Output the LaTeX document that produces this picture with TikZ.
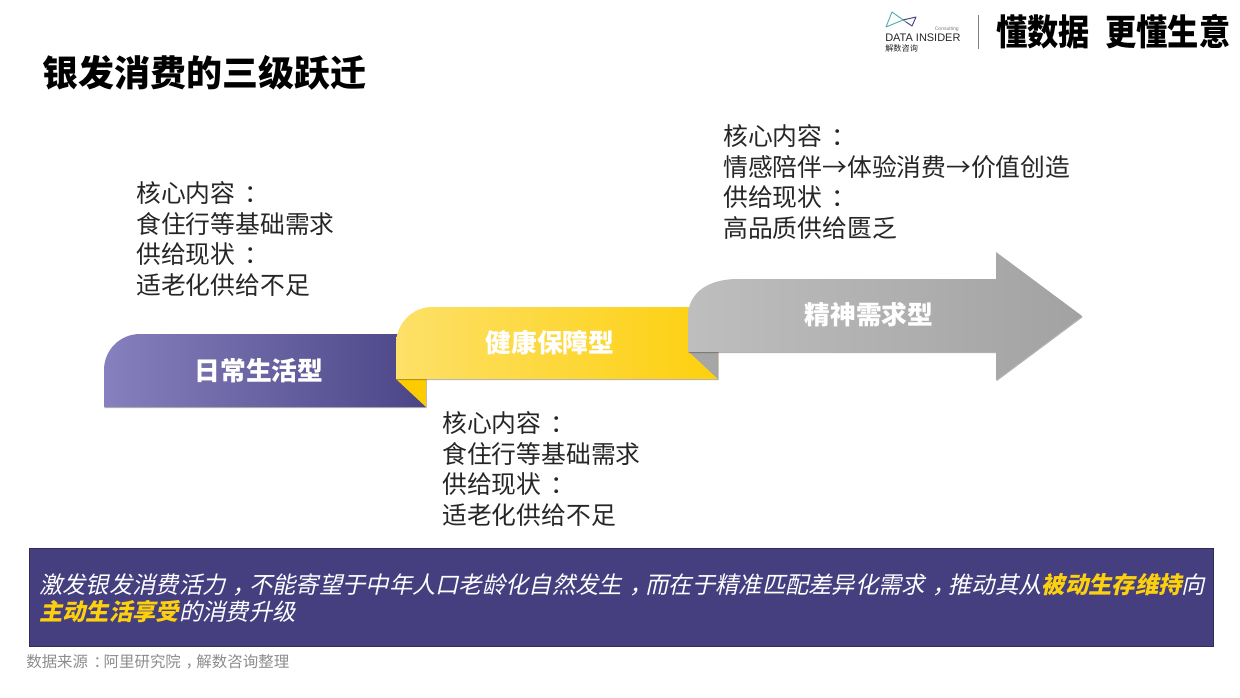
\documentclass[tikz,border=0pt]{standalone}
\usepackage{fontspec}
\usepackage{xcolor}
\usetikzlibrary{shadows}
\setmainfont{Noto Sans CJK SC}
\setsansfont{Liberation Sans}
\newfontfamily\slantfont[FakeSlant=0.22]{Noto Sans CJK SC}
\newcommand{\zhcolon}{\kern.36em\char"FF1A\kern-.36em}
\newcommand{\zhcomma}{\kern.3em\char"FF0C\kern-.3em}
\definecolor{violetL}{RGB}{135, 128, 190}
\definecolor{violetR}{RGB}{74, 69, 134}
\definecolor{banner}{RGB}{69, 63, 128}
\definecolor{goldL}{RGB}{253, 224, 104}
\definecolor{goldR}{RGB}{253, 208, 14}
\definecolor{goldfold}{RGB}{252, 203, 0}
\definecolor{greyL}{RGB}{190, 190, 190}
\definecolor{greyR}{RGB}{162, 162, 162}
\definecolor{greyfold}{RGB}{166, 166, 166}
\definecolor{note}{RGB}{140, 140, 140}
\definecolor{bodytext}{RGB}{38, 38, 38}
\definecolor{teal}{RGB}{90, 175, 175}
\tikzset{
  flatshadow/.style={drop shadow={shadow xshift=0.5pt,shadow yshift=-0.8pt,opacity=0.3,fill=black}},
  stage/.style={font=\fontsize{18.3}{20}\selectfont\bfseries, text=white, inner sep=0pt},
  infotext/.style={font=\fontsize{17.63}{21.85}\selectfont, text=bodytext, align=left, anchor=west, inner sep=0pt}
}

\begin{document}
\begin{tikzpicture}[x=0.025cm, y=-0.025cm]
\useasboundingbox (0,0) rectangle (1240,697);

% 标题
\node[anchor=west, inner sep=0pt, font=\fontsize{25.6}{28}\selectfont\bfseries, text=black] (title) at (42,73) {银发消费的三级跃迁};

% 标志
\draw[teal, line width=0.7pt, line join=round] (886,27) -- (892,12) -- (906,22);
\draw[teal, line width=0.7pt] (886,27) -- (903,20);
\draw[violetR, line width=0.7pt, line join=round] (903,20) -- (916,17) -- (912,26) -- (906,22);
\node[anchor=west, inner sep=0pt, font=\sffamily\fontsize{7.8}{10}\selectfont, text=bodytext] (brand) at (885,37.5) {DATA INSIDER};
\node[anchor=east, inner sep=0pt, font=\sffamily\fontsize{3.6}{4}\selectfont, text=gray] (consult) at (959,29) {Consulting};
\node[anchor=west, inner sep=0pt, font=\fontsize{5.8}{7}\selectfont, text=bodytext] (brandcn) at (885,48) {解数咨询};
\draw[gray, line width=0.6pt] (978,15) -- (978,49);
\node[anchor=west, inner sep=0pt, yscale=1.15, font=\fontsize{22.2}{24}\selectfont\bfseries, text=black] (slogan) at (996,32) {懂数据\kern.5em 更懂生意};

% 第一级
\path[left color=violetL, right color=violetR, flatshadow] (104,407) -- (104,370) .. controls (104,350) and (120,334) .. (140,334) -- (426,334) -- (426,407) -- cycle;
\fill[goldfold] (396,379) -- (426,379) -- (426,407) -- cycle;
\node[stage] (daily) at (259,371) {日常生活型};

% 第二级
\path[left color=goldL, right color=goldR, flatshadow] (396,379) -- (396,344) .. controls (396,324) and (412,307) .. (432,307) -- (718,307) -- (718,379) -- cycle;
\fill[greyfold] (688,351) -- (718,351) -- (718,379) -- cycle;
\node[stage] (health) at (550,343) {健康保障型};

% 第三级
\path[left color=greyL, right color=greyR, flatshadow] (688,352) -- (688,316) .. controls (688,296) and (704,279) .. (738,279) -- (996,279) -- (996,252) -- (1082,316) -- (996,380) -- (996,352) -- cycle;
\node[stage] (spirit) at (869,315) {精神需求型};

% 说明文字
\node[infotext] (dailytext) at (136,239) {核心内容\zhcolon\\食住行等基础需求\\供给现状\zhcolon\\适老化供给不足};
\node[infotext] (healthtext) at (442,469) {核心内容\zhcolon\\食住行等基础需求\\供给现状\zhcolon\\适老化供给不足};
\node[infotext] (spirittext) at (723,182) {核心内容\zhcolon\\情感陪伴→体验消费→价值创造\\供给现状\zhcolon\\高品质供给匮乏};

% 结论
\draw[draw=banner!70!black, fill=banner, line width=0.5pt] (29,548) rectangle (1213,646);
\node[anchor=west, inner sep=0pt, align=left, text=white, font=\fontsize{16.58}{19.2}\selectfont\slantfont] (summary) at (39,598) {激发银发消费活力\zhcomma{}不能寄望于中年人口老龄化自然发生\zhcomma{}而在于精准匹配差异化需求\zhcomma{}推动其从\textcolor{goldR}{\textbf{被动生存维持}}向\\\textcolor{goldR}{\textbf{主动生活享受}}的消费升级};

% 来源
\node[anchor=west, inner sep=0pt, text=note, font=\fontsize{11}{13}\selectfont] (source) at (26,662) {数据来源\zhcolon{}阿里研究院\zhcomma{}解数咨询整理};
\end{tikzpicture}
\end{document}
